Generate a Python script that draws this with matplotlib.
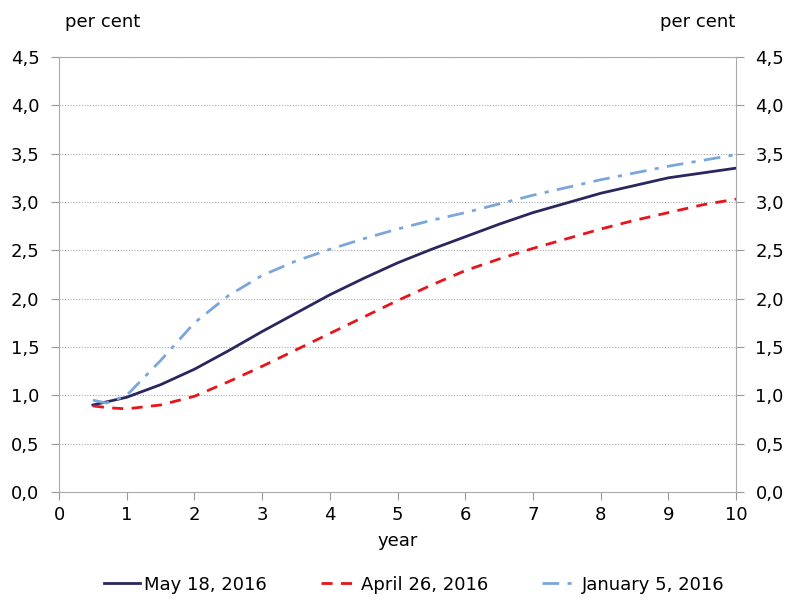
import matplotlib
matplotlib.use("Agg")
import matplotlib.pyplot as plt
from matplotlib.ticker import FuncFormatter

plt.rcParams['font.family'] = ['DejaVu Sans']

# years to maturity and yields (per cent)
years_may = [0.5, 1, 1.5, 2, 2.5, 3, 3.5, 4, 4.5, 5, 5.5, 6, 6.5, 7, 7.5, 8, 8.5, 9, 9.5, 10]
may18 = [0.90, 0.98, 1.11, 1.27, 1.46, 1.66, 1.85, 2.04, 2.21, 2.37, 2.51, 2.64, 2.77, 2.89,
         2.99, 3.09, 3.17, 3.25, 3.30, 3.35]

years_apr = [0.5, 0.75, 1, 1.5, 2, 2.5, 3, 3.5, 4, 4.5, 5, 5.5, 6, 6.5, 7, 7.5, 8, 8.5, 9, 9.5, 10]
apr26 = [0.89, 0.87, 0.86, 0.90, 0.99, 1.14, 1.30, 1.47, 1.64, 1.81, 1.98, 2.14, 2.29, 2.41,
         2.52, 2.62, 2.72, 2.81, 2.89, 2.97, 3.03]

years_jan = [0.5, 0.7, 1, 1.5, 2, 2.5, 3, 3.5, 4, 4.5, 5, 5.5, 6, 6.5, 7, 7.5, 8, 8.5, 9, 9.5, 10]
jan5 = [0.95, 0.92, 1.00, 1.36, 1.75, 2.03, 2.24, 2.39, 2.51, 2.62, 2.72, 2.81, 2.89, 2.98,
        3.07, 3.15, 3.23, 3.30, 3.37, 3.43, 3.49]

fig = plt.figure(figsize=(7.85, 6.05), dpi=100)
ax = fig.add_axes([0.0752, 0.1868, 0.8624, 0.719])

ax.plot(years_may, may18, color='#2a275e', lw=2, label='May 18, 2016')
ax.plot(years_apr, apr26, color='#e8141b', lw=2, dashes=(4, 3), label='April 26, 2016')
ax.plot(years_jan, jan5, color='#7aa6dc', lw=2, dashes=(6, 3, 1.5, 3), label='January 5, 2016')

ax.set_xlim(0, 10)
ax.set_ylim(0, 4.5)
ax.set_xticks(range(0, 11))
ax.set_yticks([i * 0.5 for i in range(10)])
fmt = FuncFormatter(lambda v, p: ('%.1f' % v).replace('.', ','))
ax.yaxis.set_major_formatter(fmt)
ax.grid(axis='y', color='#aaaaaa', ls=(0, (1, 1.5)), lw=0.8)
ax.tick_params(axis='y', which='both', left=True, right=True, labelleft=True, labelright=True,
               length=6, color='#999999', labelsize=13, pad=8)
ax.tick_params(axis='x', length=6, color='#999999', labelsize=13, pad=4)
for s in ax.spines.values():
    s.set_color('#aaaaaa')

ax.set_xlabel('year', fontsize=13, labelpad=6)
fig.text(0.083, 0.955, 'per cent', fontsize=13, ha='left')
fig.text(0.937, 0.955, 'per cent', fontsize=13, ha='right')

ax.legend(loc='upper center', bbox_to_anchor=(0.525, -0.155), ncol=3, frameon=False,
          fontsize=13, handlelength=2.0, handletextpad=0.2, columnspacing=3.0)

fig.savefig('out.png', dpi=100)
